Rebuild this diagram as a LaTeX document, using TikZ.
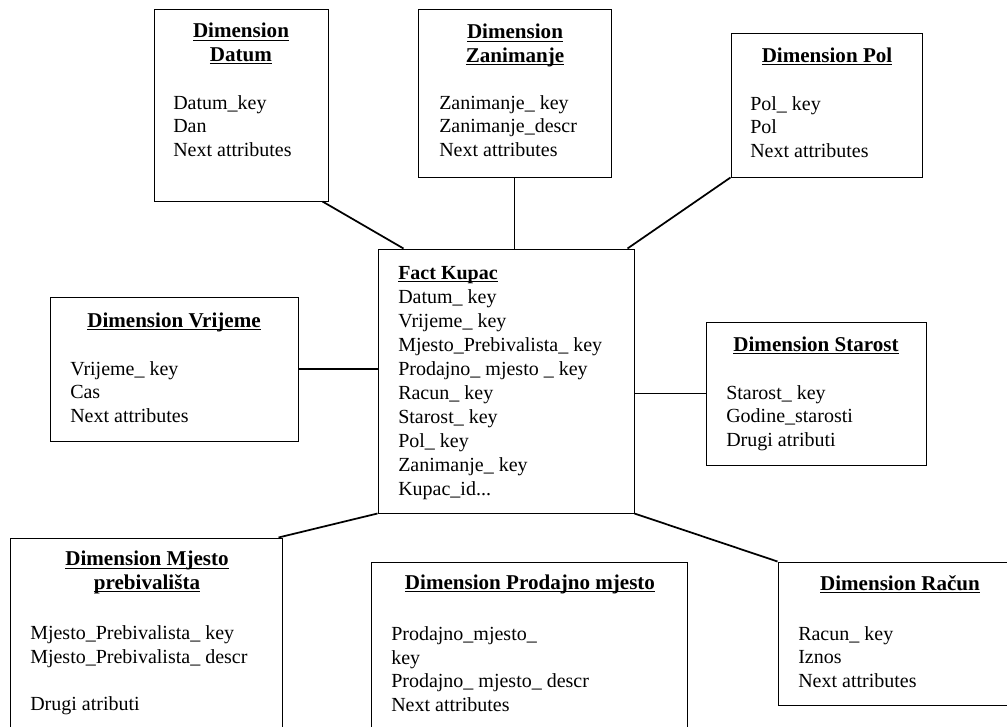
\documentclass[tikz,border=0pt]{standalone}
\usepackage{fontspec}
\setmainfont{Liberation Serif}
\usetikzlibrary{calc}
\newsavebox{\ulnbox}
\newcommand{\uln}[1]{\sbox{\ulnbox}{#1}\rlap{\rule[-2.6pt]{\wd\ulnbox}{0.9pt}}\usebox{\ulnbox}}

\begin{document}
\begin{tikzpicture}[x=0.75pt,y=-0.75pt,
  dimbox/.style 2 args={draw,line width=0.75pt,inner sep=0pt,minimum width=#1*0.75pt,minimum height=#2*0.75pt},
  title/.style={inner sep=0pt,align=center,font=\fontsize{15.8}{17.6}\selectfont\bfseries},
  attrs/.style={inner sep=0pt,align=left,font=\fontsize{15}{17.6}\selectfont},
  link/.style={line width=1.3pt}]

\useasboundingbox (0,0) rectangle (1007,726);

% boxes
\node [dimbox={174}{192}] (datum) at (241,105) {};
\node [dimbox={193}{168}] (zanimanje) at (514.5,93) {};
\node [dimbox={191}{144}] (pol) at (826.5,105) {};
\node [dimbox={248}{144}] (vrijeme) at (174,369) {};
\node [dimbox={256}{264}] (fact) at (506,381) {};
\node [dimbox={220}{143}] (starost) at (816,393.5) {};
\node [dimbox={272}{222}] (mjesto) at (146,649) {};
\node [dimbox={316}{198}] (prodajno) at (529,661) {};
\node [dimbox={244}{143}] (racun) at (900,633.5) {};

% titles (base = last line)
\node [title,anchor=base] (datumtitle) at (241,61) {\uln{Dimension}\\\uln{Datum}};
\node [title,anchor=base] (zanimanjetitle) at (515,62) {\uln{Dimension}\\\uln{Zanimanje}};
\node [title,anchor=base] (poltitle) at (827,62) {\uln{Dimension Pol}};
\node [title,anchor=base] (vrijemetitle) at (174,327) {\uln{Dimension Vrijeme}};
\node [title,anchor=base] (starosttitle) at (816,351) {\uln{Dimension Starost}};
\node [title,anchor=base] (mjestotitle) at (147,589) {\uln{Dimension Mjesto}\\\uln{prebivališta}};
\node [title,anchor=base] (prodajnotitle) at (530,589) {\uln{Dimension Prodajno mjesto}};
\node [title,anchor=base] (racuntitle) at (900,590) {\uln{Dimension Račun}};

% attributes (base = last line)
\node [attrs,anchor=base west] (datumattr) at (173,156) {Datum\_key\\Dan\\Next attributes};
\node [attrs,anchor=base west] (zanimanjeattr) at (439,156) {Zanimanje\_ key\\Zanimanje\_descr\\Next attributes};
\node [attrs,anchor=base west] (polattr) at (750,157) {Pol\_ key\\Pol\\Next attributes};
\node [attrs,anchor=base west] (vrijemeattr) at (70,422) {Vrijeme\_ key\\Cas\\Next attributes};
\node [attrs,anchor=base west,font=\fontsize{15}{18}\selectfont] (factattr) at (398,495) {\textbf{\uln{Fact Kupac}}\\Datum\_ key\\Vrijeme\_ key\\Mjesto\_Prebivalista\_ key\\Prodajno\_ mjesto \_ key\\Racun\_ key\\Starost\_ key\\Pol\_ key\\Zanimanje\_ key\\Kupac\_id...};
\node [attrs,anchor=base west] (starostattr) at (726,446) {Starost\_ key\\Godine\_starosti\\Drugi atributi};
\node [attrs,anchor=base west] (mjestoattr) at (30,710) {Mjesto\_Prebivalista\_ key\\Mjesto\_Prebivalista\_ descr\\[17.6pt]Drugi atributi};
\node [attrs,anchor=base west] (prodajnoattr) at (391,711) {Prodajno\_mjesto\_\\key\\Prodajno\_ mjesto\_ descr\\Next attributes};
\node [attrs,anchor=base west] (racunattr) at (798,687) {Racun\_ key\\Iznos\\Next attributes};

% links
\draw [link] ($(datum.south east)+(-6,0)$) -- ($(fact.north west)+(26,0)$);
\draw [link] (zanimanje.south) -- (zanimanje.south |- fact.north);
\draw [link] (pol.south west) -- ($(fact.north east)+(-7,0)$);
\draw [link] (vrijeme.east) -- (vrijeme.east -| fact.west);
\draw [link] (starost.west) -- (starost.west -| fact.east);
\draw [link] (fact.south west) -- ($(mjesto.north east)+(-4,0)$);
\draw [link] ($(fact.south)+(9,0)$) -- ($(fact.south)+(9,0)$ |- prodajno.north);
\draw [link] (fact.south east) -- (racun.north west);

\end{tikzpicture}
\end{document}
